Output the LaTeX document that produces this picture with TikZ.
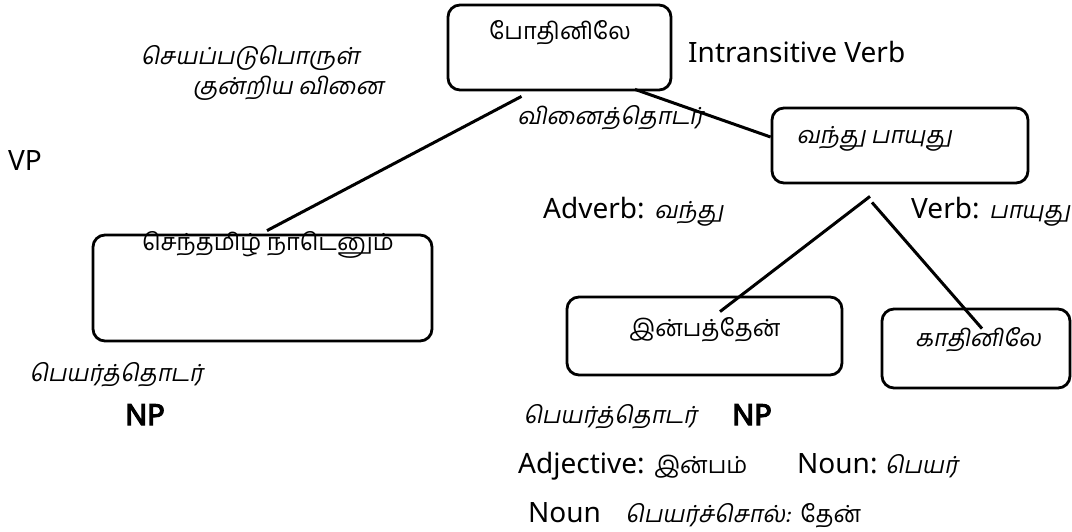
\documentclass[tikz,border=0pt]{standalone}
\usepackage{fontspec}
\setmainfont{Noto Sans}
\newfontfamily\npfont[FakeBold=4]{Noto Sans}
\newfontfamily\tamilfont[Script=Tamil]{Hind Madurai}
\newfontfamily\tamilslant[Script=Tamil,FakeSlant=0.2]{Hind Madurai}
\usetikzlibrary{positioning}

\newcommand{\tu}[1]{{\fontsize{23.5}{28}\tamilfont #1}}
\newcommand{\ts}[1]{{\fontsize{23.5}{28}\tamilslant #1}}

\tikzset{
  treebox/.style={draw, line width=2.8pt, rounded corners=12pt, inner sep=0pt},
  branch/.style={line width=3pt},
  lat/.style={font=\fontsize{28}{33}\selectfont, inner sep=0pt, anchor=base west},
  latbold/.style={lat, font=\fontsize{29}{34}\npfont},
  tam/.style={font=\fontsize{23.5}{28}\tamilfont, inner sep=0pt},
  tams/.style={font=\fontsize{23.5}{28}\tamilslant, inner sep=0pt},
}

\begin{document}
\begin{tikzpicture}[x=1pt,y=-1pt]
\useasboundingbox (0,0) rectangle (1072,531);

% draw boxes
\foreach \name/\cx/\cy/\w/\h in {pothu/559.5/47.5/223/85, vandhu/900/145.5/256/75,
        senbox/262.5/288/339/106, inbox/704.5/336/275/78, kaadhu/976/348.5/188/79}
\node[treebox, minimum width=\w, minimum height=\h] (\name) at (\cx,\cy) {};

% words in the boxes
\node[tam] (pothutxt) at (560,33) {போதினிலே};
\node[tams] (vandhutxt) at (874,139) {வந்து பாயுது};
\node[tam] (sentxt) at (268,245) {செந்தமிழ் நாடெனும்};
\node[tam] (intxt) at (705,330) {இன்பத்தேன்};
\node[tams] (kaatxt) at (978,340) {காதினிலே};

% labels
\node[tams] (seyap) at (250,58) {செயப்படுபொருள்};
\node[tams] (kunriya) at (288,88) {குன்றிய வினை};
\node[lat] (intrans) at (688,62) {Intransitive Verb};
\node[tams] (vinai) at (610,118) {வினைத்தொடர்};
\node[lat] (vp) at (8,170) {VP};
\node[lat] (adverb) at (543,218) {Adverb: \ts{வந்து}};
\node[lat] (verb) at (911,218) {Verb: \ts{பாயுது}};

\node[tams] (npleft) at (116,375) {பெயர்த்தொடர்};
\node[latbold] (npa) at (125,425) {NP};
\node[tams] (npright) at (610,417) {பெயர்த்தொடர்};
\node[latbold] (npb) at (732,425) {NP};
\node[lat] (adj) at (518,473) {Adjective: \tu{இன்பம்}};
\node[lat] (noun) at (797,473) {Noun:\ \ts{பெயர்}};
\node[lat] (nounb) at (528,522) {Noun};
\node[lat] (sol) at (625,522) {\ts{பெயர்ச்சொல்:} \tu{தேன்}};

% draw branches
\draw[branch] ([xshift=-38pt,yshift=-5pt]pothu.south) -- ([xshift=4.5pt,yshift=3pt]senbox.north);
\draw[branch] ([xshift=75.5pt,yshift=2pt]pothu.south) -- ([yshift=8.5pt]vandhu.west);
\draw[branch] ([xshift=-30pt,yshift=-12pt]vandhu.south) -- ([xshift=15.5pt,yshift=-16pt]inbox.north);
\draw[branch] ([xshift=-28pt,yshift=-18pt]vandhu.south) -- ([xshift=6pt,yshift=-21pt]kaadhu.north);
\end{tikzpicture}
\end{document}
